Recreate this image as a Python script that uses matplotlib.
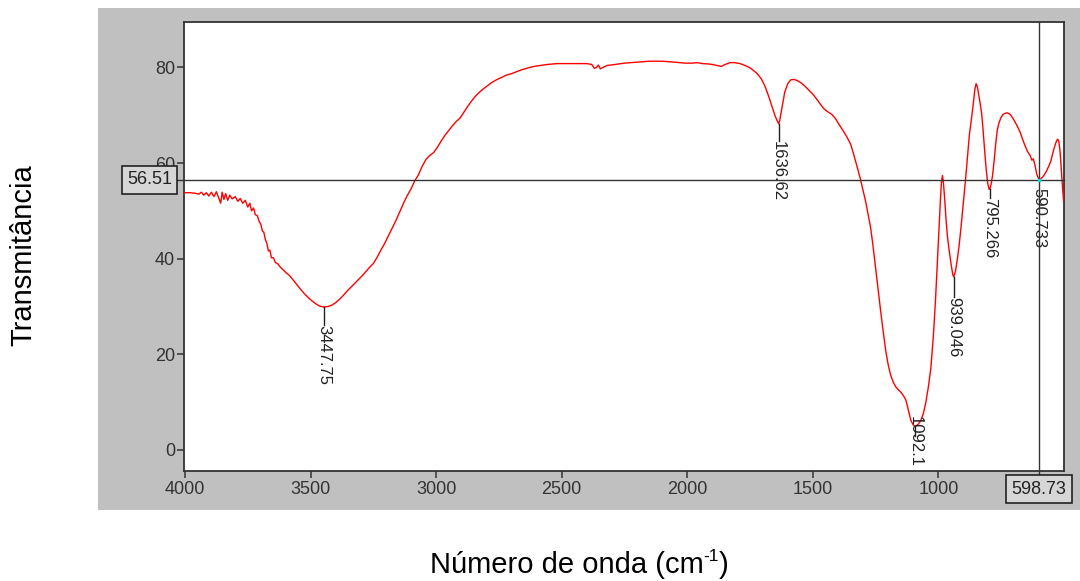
#!/usr/bin/env python3
"""Espectro FTIR - transmitancia vs numero de onda"""

import numpy as np
import matplotlib
matplotlib.use("Agg")
import matplotlib.pyplot as plt
from matplotlib.patches import Rectangle
import matplotlib.transforms as mtransforms

plt.rcParams["font.family"] = ["Liberation Sans", "DejaVu Sans"]

# spectrum (wavenumber, transmittance)
wavenumber = [
    4004, 3980, 3960, 3945, 3935, 3925, 3915, 3905, 3895, 3885, 3875, 3865, 3858, 3852,
    3845, 3838, 3830, 3822, 3812, 3800, 3790, 3780, 3770, 3760, 3750, 3742, 3735, 3727,
    3720, 3712, 3705, 3698, 3692, 3686, 3680, 3674, 3668, 3662, 3656, 3648, 3640, 3630,
    3620, 3608, 3596, 3584, 3570, 3555, 3540, 3525, 3510, 3495, 3480, 3465, 3448, 3430,
    3415, 3400, 3385, 3370, 3355, 3340, 3325, 3310, 3295, 3280, 3265, 3250, 3235, 3220,
    3205, 3190, 3175, 3160, 3145, 3130, 3115, 3100, 3085, 3070, 3055, 3040, 3025, 3010,
    2995, 2980, 2965, 2950, 2935, 2920, 2905, 2890, 2875, 2860, 2845, 2830, 2815, 2800,
    2780, 2760, 2740, 2720, 2700, 2680, 2660, 2640, 2620, 2600, 2560, 2520, 2480, 2440,
    2400, 2380, 2370, 2362, 2354, 2346, 2336, 2320, 2290, 2250, 2200, 2150, 2100, 2050,
    2010, 1980, 1960, 1940, 1910, 1880, 1865, 1850, 1830, 1810, 1790, 1770, 1750, 1735,
    1720, 1705, 1690, 1675, 1660, 1650, 1640, 1636, 1632, 1622, 1612, 1600, 1588, 1575,
    1560, 1545, 1530, 1515, 1500, 1485, 1470, 1455, 1440, 1425, 1410, 1395, 1380, 1365,
    1350, 1340, 1330, 1320, 1310, 1300, 1290, 1280, 1270, 1260, 1250, 1240, 1230, 1220,
    1210, 1200, 1190, 1180, 1170, 1160, 1150, 1140, 1130, 1120, 1110, 1100, 1092, 1080,
    1070, 1060, 1050, 1040, 1030, 1020, 1012, 1005, 998, 992, 988, 984, 980, 975,
    970, 964, 958, 950, 943, 939, 932, 925, 918, 910, 903, 897, 891, 884,
    877, 870, 862, 855, 850, 845, 840, 834, 828, 822, 816, 810, 804, 798,
    795, 790, 784, 778, 772, 766, 760, 752, 744, 735, 725, 715, 705, 695,
    685, 675, 665, 655, 645, 635, 628, 622, 615, 608, 602, 598, 592, 585,
    578, 570, 562, 553, 545, 537, 530, 525, 520, 515, 510, 506, 502, 500,
]
transmittance = [
    53.8, 53.8, 53.7, 53.5, 53.9, 53.3, 53.8, 53.1, 53.9, 53.0, 54.0, 52.6, 51.6, 53.9,
    52.4, 53.6, 52.2, 53.3, 52.5, 53.0, 52.0, 52.6, 51.6, 52.2, 50.8, 51.6, 50.0, 50.6,
    49.2, 49.0, 47.8, 47.2, 45.8, 45.5, 44.0, 43.2, 41.6, 41.8, 40.2, 40.2, 39.2, 38.9,
    38.2, 37.6, 37.0, 36.5, 35.6, 34.6, 33.6, 32.7, 31.9, 31.2, 30.6, 30.1, 29.9, 30.0,
    30.3, 30.8, 31.5, 32.3, 33.2, 34.0, 34.8, 35.6, 36.4, 37.3, 38.2, 39.0, 40.3, 41.8,
    43.2, 44.8, 46.4, 48.0, 49.8, 51.6, 53.2, 54.6, 56.3, 57.6, 59.4, 60.8, 61.6, 62.2,
    63.3, 64.6, 65.8, 66.8, 67.8, 68.7, 69.4, 70.6, 71.8, 72.9, 73.9, 74.7, 75.4, 76.0,
    76.8, 77.4, 77.9, 78.4, 78.7, 79.1, 79.5, 79.8, 80.1, 80.3, 80.6, 80.8, 80.8, 80.8,
    80.8, 80.6, 79.8, 80.0, 80.5, 79.7, 80.0, 80.4, 80.6, 80.9, 81.1, 81.3, 81.3, 81.1,
    80.9, 80.9, 81.0, 80.8, 80.7, 80.4, 80.2, 80.6, 81.0, 81.0, 80.8, 80.4, 79.9, 79.3,
    78.6, 77.6, 76.0, 73.8, 71.4, 69.8, 68.6, 68.2, 68.9, 71.8, 74.8, 76.6, 77.4, 77.5,
    77.2, 76.7, 76.0, 75.2, 74.4, 73.4, 72.3, 71.3, 70.7, 70.2, 69.3, 68.0, 66.8, 65.5,
    64.0, 62.3, 60.4, 58.5, 56.5, 54.3, 52.0, 49.3, 46.5, 42.5, 38.0, 33.6, 29.0, 24.8,
    20.8, 17.8, 15.6, 14.2, 13.2, 12.6, 12.1, 11.4, 10.5, 8.4, 6.2, 5.2, 4.9, 5.4,
    6.2, 7.6, 10.0, 13.2, 17.2, 24.0, 31.0, 38.6, 45.8, 52.4, 56.0, 57.4, 55.8, 52.4,
    48.4, 44.6, 42.0, 39.0, 36.7, 36.2, 37.4, 39.8, 42.6, 46.6, 50.4, 53.8, 57.2, 61.6,
    65.8, 68.6, 72.0, 75.4, 76.6, 76.0, 74.4, 72.5, 70.4, 66.8, 62.6, 58.8, 55.8, 54.5,
    54.6, 55.6, 57.6, 60.6, 64.0, 66.8, 68.2, 69.4, 70.1, 70.4, 70.5, 70.2, 69.5, 68.6,
    67.6, 66.5, 65.0, 63.6, 62.4, 61.6, 60.6, 60.9, 59.4, 57.6, 56.8, 56.5, 56.7, 57.1,
    57.6, 58.3, 59.2, 60.3, 62.0, 63.5, 64.6, 65.0, 64.4, 62.0, 58.0, 55.0, 52.4, 51.8,
]

# labelled minima: position, curve value, label
peak_x = [3447.75, 1636.62, 1092.1, 939.046, 795.266]
peak_y = [29.9, 68.2, 4.9, 36.2, 54.6]
peak_labels = ["3447.75", "1636.62", "1092.1", "939.046", "795.266"]
tick_len = [3.8, 3.5, 2.0, 4.2, 2.0]   # length of the little marker line
label_top = [26.1, 64.7, 7.0, 32.0, 52.6]

# cursor
cursor_x = 598.73
cursor_y = 56.51
cursor_peak = "590.733"

xticks = [4000, 3500, 3000, 2500, 2000, 1500, 1000]
yticks = [0, 20, 40, 60, 80]

W, H = 1080, 581
fig = plt.figure(figsize=(W / 100, H / 100), dpi=100, facecolor="white")

# gray panel behind the plot
fig.patches.append(Rectangle((98 / W, 1 - 510 / H), 1 - 98 / W, 502 / H,
                             transform=fig.transFigure, facecolor="#c0c0c0",
                             edgecolor="none", zorder=-10))

ax = fig.add_axes([184 / W, 1 - 471 / H, (1064 - 184) / W, (471 - 22) / H])
ax.set_zorder(5)
ax.set_facecolor("white")
ax.plot(wavenumber, transmittance, color="#ff0000", lw=1.0, zorder=3)

ax.set_xlim(4004, 500)
ax.set_ylim(-4.4, 89.5)
ax.set_xticks(xticks)
ax.set_yticks(yticks)
ax.tick_params(direction="out", length=5, width=1.1, colors="#333333",
               labelsize=13, pad=1.5)
ax.tick_params(axis="x", pad=2.5)
for s in ax.spines.values():
    s.set_color("#333333")
    s.set_linewidth(1.3)

# peak markers
for x, y, lab, tl, lt in zip(peak_x, peak_y, peak_labels, tick_len, label_top):
    ax.plot([x, x], [y, y - tl], color="#222222", lw=1.0, zorder=4)
    ax.text(x, lt, lab, rotation=270, ha="center", va="top", fontsize=12,
            color="#222222", zorder=4)

# cursor lines and value boxes
tr_h = mtransforms.blended_transform_factory(ax.transAxes, ax.transData)
tr_v = mtransforms.blended_transform_factory(ax.transData, ax.transAxes)
ax.plot([-0.008, 1], [cursor_y, cursor_y], transform=tr_h, color="#333333",
        lw=1.0, clip_on=False, zorder=5)
ax.plot([cursor_x, cursor_x], [-0.011, 1], transform=tr_v, color="#333333",
        lw=1.0, clip_on=False, zorder=5)
ax.text(cursor_x, 54.8, cursor_peak, rotation=270, ha="center", va="top",
        fontsize=12, color="#222222", zorder=4)
ax.plot([cursor_x], [cursor_y], marker="s", ms=2, color="#00e0e0", zorder=6)

box = dict(boxstyle="square,pad=0.3", facecolor="#d6d6d6", edgecolor="#222222", lw=1.2)
ax.text(-0.0136, cursor_y, f"{cursor_y:.2f}", transform=tr_h, ha="right",
        va="center", fontsize=13, color="#222222", bbox=box, zorder=6)
ax.text(cursor_x, -0.022, f"{cursor_x:.2f}", transform=tr_v, ha="center",
        va="top", fontsize=13, color="#222222", bbox=box, zorder=6)

# axis titles
fig.text(23 / W, 1 - 255 / H, "Transmitância", rotation=90, ha="center",
         va="center", fontsize=21, color="black")
t1 = fig.text(430 / W, 1 - 565 / H, "Número de onda (cm", ha="left",
              va="center", fontsize=21, color="black")
t2 = ax.annotate("-1", xy=(1, 0.55), xycoords=t1, ha="left", va="bottom",
                 fontsize=12.5, color="black", annotation_clip=False)
ax.annotate(")", xy=(1, 0.0), xycoords=(t2, t1), ha="left", va="bottom",
            fontsize=21, color="black", annotation_clip=False)

fig.savefig("out.png", dpi=100, facecolor="white")
